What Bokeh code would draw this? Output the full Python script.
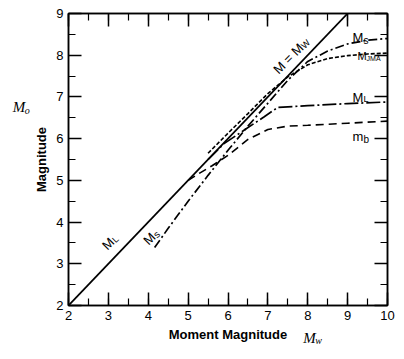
import math
from bokeh.plotting import figure
from bokeh.models import (LinearAxis, SingleIntervalTicker, Label, Range1d,
                          CustomJSTickFormatter)
from bokeh.embed import file_html
from bokeh.resources import INLINE

# ---- data ----
line_mw = [2.0, 9.0]
line_m = [2.0, 9.0]

ms_mw = [4.16, 4.5, 5.0, 5.5, 6.0, 6.5, 7.0, 7.5, 8.0, 8.5, 9.0, 9.5, 10.0]
ms_m = [3.39, 3.85, 4.5, 5.12, 5.72, 6.3, 6.85, 7.4, 7.85, 8.1, 8.27, 8.36, 8.4]

mjma_mw = [5.5, 6.0, 6.5, 7.0, 7.5, 8.0, 8.5, 9.0, 9.5, 10.0]
mjma_m = [5.65, 6.13, 6.6, 7.08, 7.48, 7.77, 7.92, 7.99, 8.03, 8.05]

ml_mw = [5.5, 5.9, 6.4, 6.9, 7.25, 8.0, 9.0, 10.0]
ml_m = [5.5, 5.88, 6.2, 6.52, 6.75, 6.79, 6.84, 6.88]

mb_mw = [5.0, 5.3, 5.6, 6.0, 6.5, 7.0, 7.5, 8.0, 9.0, 10.0]
mb_m = [5.0, 5.18, 5.35, 5.6, 5.98, 6.22, 6.3, 6.32, 6.37, 6.42]

SANS = "Liberation Sans"
SERIF = "Liberation Serif"

p = figure(width=396, height=351, output_backend="svg", toolbar_location=None,
           x_range=Range1d(2, 10), y_range=Range1d(2, 9),
           min_border_left=68, min_border_right=9, min_border_top=13,
           min_border_bottom=46, x_axis_label="Moment Magnitude",
           y_axis_label="Magnitude")
p.grid.visible = False
p.outline_line_color = "black"
p.outline_line_width = 1.5
p.background_fill_color = "white"
p.border_fill_color = "white"


def style_axis(ax, labels=True):
    ax.ticker = SingleIntervalTicker(interval=1, num_minor_ticks=2)
    ax.axis_line_color = "black"
    ax.axis_line_width = 1.5
    ax.major_tick_in = 13
    ax.major_tick_out = 0
    ax.minor_tick_in = 7
    ax.minor_tick_out = 0
    ax.major_tick_line_width = 1.5
    ax.minor_tick_line_width = 1.2
    ax.major_tick_line_color = "black"
    ax.minor_tick_line_color = "black"
    if labels:
        ax.major_label_text_font = SANS
        ax.major_label_text_font_size = "13px"
        ax.major_label_text_color = "black"
        ax.major_label_standoff = 5
        ax.axis_label_text_font = SANS
        ax.axis_label_text_font_style = "bold"
        ax.axis_label_text_font_size = "13px"
        ax.axis_label_text_color = "black"
    else:
        ax.formatter = CustomJSTickFormatter(code="return ''")
        ax.major_label_standoff = 0


style_axis(p.xaxis[0])
style_axis(p.yaxis[0])
p.xaxis[0].axis_label_standoff = 4
p.yaxis[0].axis_label_standoff = 4

top = LinearAxis()
right = LinearAxis()
style_axis(top, labels=False)
style_axis(right, labels=False)
p.add_layout(top, "above")
p.add_layout(right, "right")

# ---- curves ----
p.line(line_mw, line_m, line_color="black", line_width=1.8)
p.line(ms_mw, ms_m, line_color="black", line_width=1.7, line_dash="9 3 2 3")
p.line(mjma_mw, mjma_m, line_color="black", line_width=1.6, line_dash="4 2")
p.line(ml_mw, ml_m, line_color="black", line_width=1.7, line_dash="14 3 2 3")
p.line(mb_mw, mb_m, line_color="black", line_width=1.6, line_dash="8 5")


def sub_label(x, y, main, sub, size, subsize, main_w, drop, angle=0.0,
              font=SANS, style="normal", place=(None, None)):
    th = math.radians(angle)
    ox = main_w * math.cos(th) + drop * math.sin(th)
    oy = main_w * math.sin(th) - drop * math.cos(th)
    for (txt, sz, dx, dy), where in zip(((main, size, 0, 0), (sub, subsize, ox, oy)), place):
        lab = Label(x=x, y=y, x_offset=dx, y_offset=dy, text=txt, angle=th,
                    text_align="left", text_baseline="alphabetic",
                    text_font=font, text_font_style=style,
                    text_font_size=f"{sz}px", text_color="black")
        if where:
            p.add_layout(lab, where)
        else:
            p.add_layout(lab)


# right-hand curve labels
sub_label(9.12, 8.43, "M", "s", 13, 10, 11, 3)
sub_label(9.25, 7.97, "M", "JMA", 11, 7, 9, 2)
sub_label(9.12, 6.99, "M", "L", 13, 9, 11, 2)
sub_label(9.12, 6.05, "m", "b", 13, 10, 11, 3)

# rotated labels along the lines
sub_label(7.19, 7.61, "M = M", "W", 13, 9, 36.5, 2, angle=45)
sub_label(2.90, 3.39, "M", "L", 13, 9, 11, 2, angle=45)
sub_label(3.93, 3.51, "M", "s", 13, 10, 11, 2, angle=45)

# serif italic symbols next to the axis titles (placed in side panels so
# they are not clipped to the frame)
sub_label(0.60, 6.75, "M", "o", 15, 10, 12, 3, font=SERIF, style="italic",
          place=("left", "right"))
sub_label(7.89, 1.23, "M", "w", 15, 10, 12, 3, font=SERIF, style="italic",
          place=("left", "left"))

open("out.html", "w").write(file_html(p, INLINE))
